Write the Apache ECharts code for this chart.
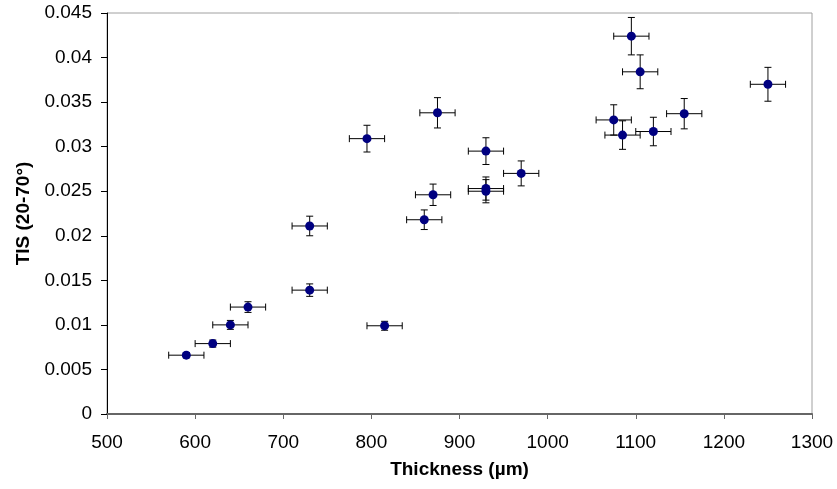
<!DOCTYPE html>
<html>
<head>
<meta charset="utf-8">
<script src="https://cdn.jsdelivr.net/npm/echarts@6/dist/echarts.min.js"></script>
<style>
  html, body { margin: 0; padding: 0; background: #fff; }
  #chart { width: 837px; height: 489px; }
</style>
</head>
<body>
<div id="chart"></div>
<script>
  // thickness (µm) and TIS (20-70°)
  var thickness = [590, 620, 640, 660, 730, 730, 815, 795, 875, 860, 870,
                   930, 930, 930, 970, 1075, 1085, 1095, 1105, 1120, 1155, 1250];
  var tis = [0.0066, 0.0079, 0.0100, 0.0120, 0.0139, 0.0211, 0.0099, 0.0309, 0.0338, 0.0218, 0.0246,
             0.0295, 0.0253, 0.0250, 0.0270, 0.0330, 0.0313, 0.0424, 0.0384, 0.0317, 0.0337, 0.0370];
  // error bar half widths
  var thicknessErr = [20, 20, 20, 20, 20, 20, 20, 20, 20, 20, 20,
                      20, 20, 20, 20, 20, 20, 20, 20, 20, 20, 20];
  var tisErr = [0.0003, 0.0004, 0.0005, 0.0006, 0.0007, 0.0011, 0.0005, 0.0015, 0.0017, 0.0011, 0.0012,
                0.0015, 0.0013, 0.0013, 0.0014, 0.0017, 0.0016, 0.0021, 0.0019, 0.0016, 0.0017, 0.0019];

  var points = thickness.map(function (x, i) { return [x, tis[i]]; });
  var errData = thickness.map(function (x, i) {
    return [x, tis[i], thicknessErr[i], tisErr[i]];
  });

  var font = 'Liberation Sans, Arial, sans-serif';
  var capLen = 3.5;

  function renderErrorBar(params, api) {
    var x = api.value(0), y = api.value(1), dx = api.value(2), dy = api.value(3);
    var left = api.coord([x - dx, y]);
    var right = api.coord([x + dx, y]);
    var top = api.coord([x, y + dy]);
    var bottom = api.coord([x, y - dy]);
    var style = { stroke: '#000', lineWidth: 1 };
    return {
      type: 'group',
      children: [
        { type: 'line', shape: { x1: left[0], y1: left[1], x2: right[0], y2: right[1] }, style: style },
        { type: 'line', shape: { x1: left[0], y1: left[1] - capLen, x2: left[0], y2: left[1] + capLen }, style: style },
        { type: 'line', shape: { x1: right[0], y1: right[1] - capLen, x2: right[0], y2: right[1] + capLen }, style: style },
        { type: 'line', shape: { x1: top[0], y1: top[1], x2: bottom[0], y2: bottom[1] }, style: style },
        { type: 'line', shape: { x1: top[0] - capLen, y1: top[1], x2: top[0] + capLen, y2: top[1] }, style: style },
        { type: 'line', shape: { x1: bottom[0] - capLen, y1: bottom[1], x2: bottom[0] + capLen, y2: bottom[1] }, style: style }
      ]
    };
  }

  var chart = echarts.init(document.getElementById('chart'));
  chart.setOption({
    animation: false,
    grid: {
      left: 107,
      right: 25,
      top: 13,
      bottom: 75,
      show: true,
      borderColor: '#a0a0a0',
      borderWidth: 1
    },
    xAxis: {
      type: 'value',
      min: 500,
      max: 1300,
      interval: 100,
      name: 'Thickness (µm)',
      nameLocation: 'middle',
      nameGap: 46,
      nameTextStyle: { fontFamily: font, fontSize: 19, fontWeight: 'bold', color: '#000' },
      axisLine: { onZero: false, lineStyle: { color: '#666', width: 2 } },
      axisTick: { show: true, length: 5, lineStyle: { color: '#666' } },
      axisLabel: {
        margin: 19,
        fontFamily: font,
        fontSize: 19,
        color: '#000',
        formatter: function (v) { return String(v); }
      },
      splitLine: { show: false }
    },
    yAxis: {
      type: 'value',
      min: 0,
      max: 0.045,
      interval: 0.005,
      name: 'TIS (20-70°)',
      nameLocation: 'middle',
      nameGap: 74,
      nameTextStyle: { fontFamily: font, fontSize: 19, fontWeight: 'bold', color: '#000' },
      axisLine: { show: true, lineStyle: { color: '#000', width: 1 } },
      axisTick: { show: true, length: 6, lineStyle: { color: '#000' } },
      axisLabel: { margin: 15, fontFamily: font, fontSize: 19, color: '#000' },
      splitLine: { show: false }
    },
    series: [
      {
        type: 'custom',
        renderItem: renderErrorBar,
        data: errData,
        encode: { x: 0, y: 1 },
        z: 2
      },
      {
        type: 'scatter',
        data: points,
        symbol: 'circle',
        symbolSize: 9,
        itemStyle: { color: '#000080', opacity: 1 },
        z: 3
      }
    ]
  });
</script>
</body>
</html>
